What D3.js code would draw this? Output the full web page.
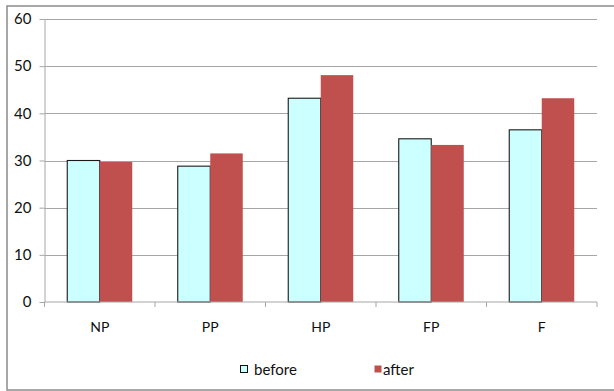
<!DOCTYPE html>
<html>
<head>
<meta charset="utf-8">
<script src="https://cdn.jsdelivr.net/npm/d3@7"></script>
<style>
  html, body { margin: 0; padding: 0; background: #fff; }
  svg { display: block; font-family: Lato, "Open Sans", sans-serif; }
</style>
</head>
<body>
<svg id="chart" width="614" height="391"></svg>
<script>
const categories = ["NP", "PP", "HP", "FP", "F"];
const before = [30.0, 28.8, 43.2, 34.6, 36.5];
const after = [29.7, 31.5, 48.1, 33.3, 43.2];
const yTicks = [0, 10, 20, 30, 40, 50, 60];
const seriesNames = ["before", "after"];

const svg = d3.select("#chart");
const plot = { left: 44.5, right: 597, top: 19, bottom: 302 };

// outer chart frame
svg.append("rect")
  .attr("x", 7).attr("y", 6).attr("width", 620).attr("height", 384)
  .attr("fill", "none").attr("stroke", "#8c8c8c").attr("stroke-width", 1.5);

const x = d3.scaleBand().domain(categories).range([plot.left, plot.right]).padding(0);
const y = d3.scaleLinear().domain([0, 60]).range([plot.bottom, plot.top]);

// horizontal gridlines
svg.append("g").selectAll("line").data(yTicks.filter(t => t > 0)).join("line")
  .attr("x1", plot.left).attr("x2", plot.right)
  .attr("y1", d => Math.round(y(d)) + 0.5).attr("y2", d => Math.round(y(d)) + 0.5)
  .attr("stroke", "#a6a6a6").attr("stroke-width", 1);

// bars: each series takes 1/(2+1.4) of the band
const barW = x.bandwidth() / 3.4;
const gap = x.bandwidth() * 0.7 / 3.4;
const series = [
  { name: "before", values: before, fill: "#ccffff", stroke: "#1a1a1a" },
  { name: "after", values: after, fill: "#c0504d", stroke: "none" }
];
series.forEach((s, si) => {
  svg.append("g").selectAll("rect").data(categories).join("rect")
    .attr("x", (d) => x(d) + gap + si * barW)
    .attr("y", (d, i) => y(s.values[i]))
    .attr("width", barW)
    .attr("height", (d, i) => y(0) - y(s.values[i]))
    .attr("fill", s.fill)
    .attr("stroke", s.stroke)
    .attr("stroke-width", 1.1);
});

// y axis
const yAxis = svg.append("g")
  .attr("transform", `translate(${plot.left},0)`)
  .call(d3.axisLeft(y).tickValues(yTicks).tickSize(5).tickPadding(8).tickSizeOuter(0));
yAxis.select(".domain").attr("stroke", "#a6a6a6");
yAxis.selectAll(".tick line").attr("stroke", "#a6a6a6");
yAxis.selectAll(".tick text").attr("font-size", 15).attr("fill", "#111").attr("font-family", "Lato, sans-serif");

// x axis
const xAxis = svg.append("g")
  .attr("transform", `translate(0,${plot.bottom})`)
  .call(d3.axisBottom(x).tickSize(0).tickPadding(20).tickSizeOuter(0));
xAxis.select(".domain").attr("stroke", "#a6a6a6").attr("d", `M${plot.left},0H${plot.right}`);
xAxis.selectAll(".tick text").attr("font-size", 14).attr("fill", "#111").attr("font-family", "Lato, sans-serif");
// category separator ticks
svg.append("g").selectAll("line")
  .data(categories.map(c => x(c)).concat([plot.right]))
  .join("line")
  .attr("x1", d => d).attr("x2", d => d)
  .attr("y1", plot.bottom).attr("y2", plot.bottom + 5)
  .attr("stroke", "#a6a6a6");

// legend
const legendPos = [240, 374];
const legend = svg.append("g");
series.forEach((s, i) => {
  const g = legend.append("g").attr("transform", `translate(${legendPos[i]},365)`);
  g.append("rect").attr("x", 0.5).attr("y", 0.5).attr("width", 7).attr("height", 7)
    .attr("fill", s.fill).attr("stroke", s.stroke === "none" ? "none" : "#111");
  g.append("text").attr("x", i === 0 ? 14 : 9).attr("y", 9.5)
    .attr("font-size", 15).attr("fill", "#111").text(seriesNames[i]);
});
</script>
</body>
</html>
